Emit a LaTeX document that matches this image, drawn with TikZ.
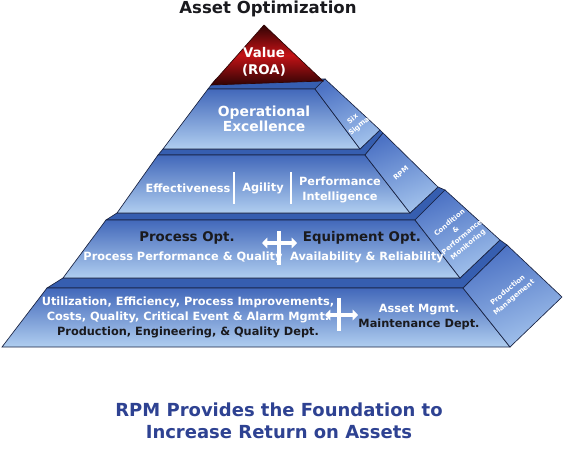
\documentclass[tikz,border=0pt]{standalone}
\usepackage{fontspec}
\setmainfont{DejaVu Sans}
\usepackage{xcolor}
\usepackage{tikz}
\usetikzlibrary{arrows.meta}
\definecolor{facetop}{RGB}{66, 104, 186}
\definecolor{facebot}{RGB}{176, 206, 240}
\definecolor{sidetop}{RGB}{76, 114, 196}
\definecolor{sidebot}{RGB}{162, 194, 236}
\definecolor{topband}{RGB}{54, 94, 176}
\definecolor{edgeline}{RGB}{24, 34, 66}
\definecolor{roadark}{RGB}{48, 4, 4}
\definecolor{roared}{RGB}{196, 18, 22}
\definecolor{captionblue}{RGB}{46, 66, 146}
\definecolor{darktext}{RGB}{26, 26, 30}
\tikzstyle{front} = [draw=edgeline, line width=0.5pt, top color=facetop, bottom color=facebot]
\tikzstyle{side} = [draw=edgeline, line width=0.5pt, top color=sidetop, bottom color=sidebot, shading angle=20]
\tikzstyle{band} = [draw=edgeline, line width=0.5pt, fill=topband]
\tikzstyle{apex} = [draw=roadark, line width=0.5pt, top color=roadark, bottom color=roadark, middle color=roared]
\tikzstyle{tiertext} = [text=white, font=\bfseries\fontsize{8.5}{11.25}\selectfont, align=center, inner sep=0pt]
\tikzstyle{headtext} = [text=darktext, font=\bfseries\fontsize{10}{12}\selectfont, align=center, inner sep=0pt]
\tikzstyle{sidetext} = [text=white, font=\bfseries\fontsize{5.2}{7.2}\selectfont, align=center, rotate=40, inner sep=0pt]
\tikzstyle{divider} = [white, line width=2.2pt]
\tikzstyle{crossarrow} = [{Triangle[length=4pt, width=8pt]}-{Triangle[length=4pt, width=8pt]}, white, line width=2.6pt]

\begin{document}
\begin{tikzpicture}[x=0.75pt, y=-0.75pt]
    \useasboundingbox (0,0) rectangle (573,453);

    % Title
    \node[text=darktext, font=\bfseries\fontsize{12.4}{14}\selectfont] (title) at (268,9) {Asset Optimization};

    % Tier 4 - base
    \draw[band] (47,288) -- (463,288) -- (507,245) -- (500,240) -- (460,278) -- (63,278) -- cycle;
    \draw[front] (47,288) -- (463,288) -- (510,347) -- (2,347) -- cycle;
    \draw[side] (463,288) -- (507,245) -- (562,297) -- (510,347) -- cycle;

    % Tier 3
    \draw[band] (106,220) -- (415,220) -- (445,190) -- (438,187) -- (410,213) -- (117,213) -- cycle;
    \draw[front] (106,220) -- (415,220) -- (460,278) -- (63,278) -- cycle;
    \draw[side] (415,220) -- (445,190) -- (500,240) -- (460,278) -- cycle;

    % Tier 2
    \draw[band] (158,155) -- (365,155) -- (383,133) -- (380,130) -- (360,149) -- (163,149) -- cycle;
    \draw[front] (158,155) -- (365,155) -- (410,213) -- (117,213) -- cycle;
    \draw[side] (365,155) -- (383,133) -- (438,187) -- (410,213) -- cycle;

    % Tier 1
    \draw[band] (208,89) -- (315,89) -- (325,79) -- (216,79) -- cycle;
    \draw[front] (208,89) -- (315,89) -- (360,149) -- (163,149) -- cycle;
    \draw[side] (315,89) -- (325,79) -- (380,130) -- (360,149) -- cycle;

    % Value cap
    \draw[apex] (264,25) -- (323,81) -- (211,85) -- cycle;
    \node[text=white, font=\bfseries\fontsize{10}{12.75}\selectfont, align=center] (roa) at (264,62) {Value\\(ROA)};

    % Tier 1 text
    \node[tiertext, font=\bfseries\fontsize{10.4}{11.5}\selectfont] (opex) at (264,119) {Operational\\Excellence};

    % Tier 2 text
    \node[tiertext] (effect) at (188,188) {Effectiveness};
    \node[tiertext] (agile) at (263,188) {Agility};
    \node[tiertext] (perfint) at (340,190) {Performance\\Intelligence};
    \foreach \x in {234, 291} {
        \coordinate (divtop) at (\x,172);
        \coordinate (divbot) at (\x,204);
        \draw[divider] (divtop) -- (divbot);
    }

    % Tier 3 text
    \node[headtext] (procopt) at (187,238) {Process Opt.};
    \node[headtext] (equipopt) at (362,238) {Equipment Opt.};
    \node[tiertext] (procperf) at (183,257) {Process Performance \& Quality};
    \node[tiertext] (avail) at (367,257) {Availability \& Reliability};
    \coordinate (pcrosstop) at (279,231);
    \coordinate (pcrossbot) at (279,265);
    \coordinate (pcrossl) at (262,243);
    \coordinate (pcrossr) at (297,243);
    \draw[divider, line width=2.8pt] (pcrosstop) -- (pcrossbot);
    \draw[crossarrow] (pcrossl) -- (pcrossr);

    % Tier 4 text
    \node[tiertext, text=darktext] (prodeng) at (188,317) {\textcolor{white}{Utilization, Efficiency, Process Improvements,}\\\textcolor{white}{Costs, Quality, Critical Event \& Alarm Mgmt.}\\Production, Engineering, \& Quality Dept.};
    \node[tiertext] (assetmgmt) at (419,317) {Asset Mgmt.\\\textcolor{darktext}{Maintenance Dept.}};
    \coordinate (acrosstop) at (339,298);
    \coordinate (acrossbot) at (339,331);
    \coordinate (acrossl) at (325,315);
    \coordinate (acrossr) at (358,315);
    \draw[divider, line width=2.8pt] (acrosstop) -- (acrossbot);
    \draw[crossarrow] (acrossl) -- (acrossr);

    % Side faces
    \node[sidetext] (sixsigma) at (356,123) {Six\\Sigma};
    \node[sidetext] (rpm) at (401,173) {RPM};
    \node[sidetext] (condmon) at (459,234) {Condition\\\&\\Performance\\Monitoring};
    \node[sidetext] (prodmgmt) at (511,294) {Production\\Management};

    % Caption
    \node[text=captionblue, font=\bfseries\fontsize{13.5}{16.5}\selectfont, align=center] (caption) at (279,421) {RPM Provides the Foundation to\\Increase Return on Assets};
\end{tikzpicture}
\end{document}
